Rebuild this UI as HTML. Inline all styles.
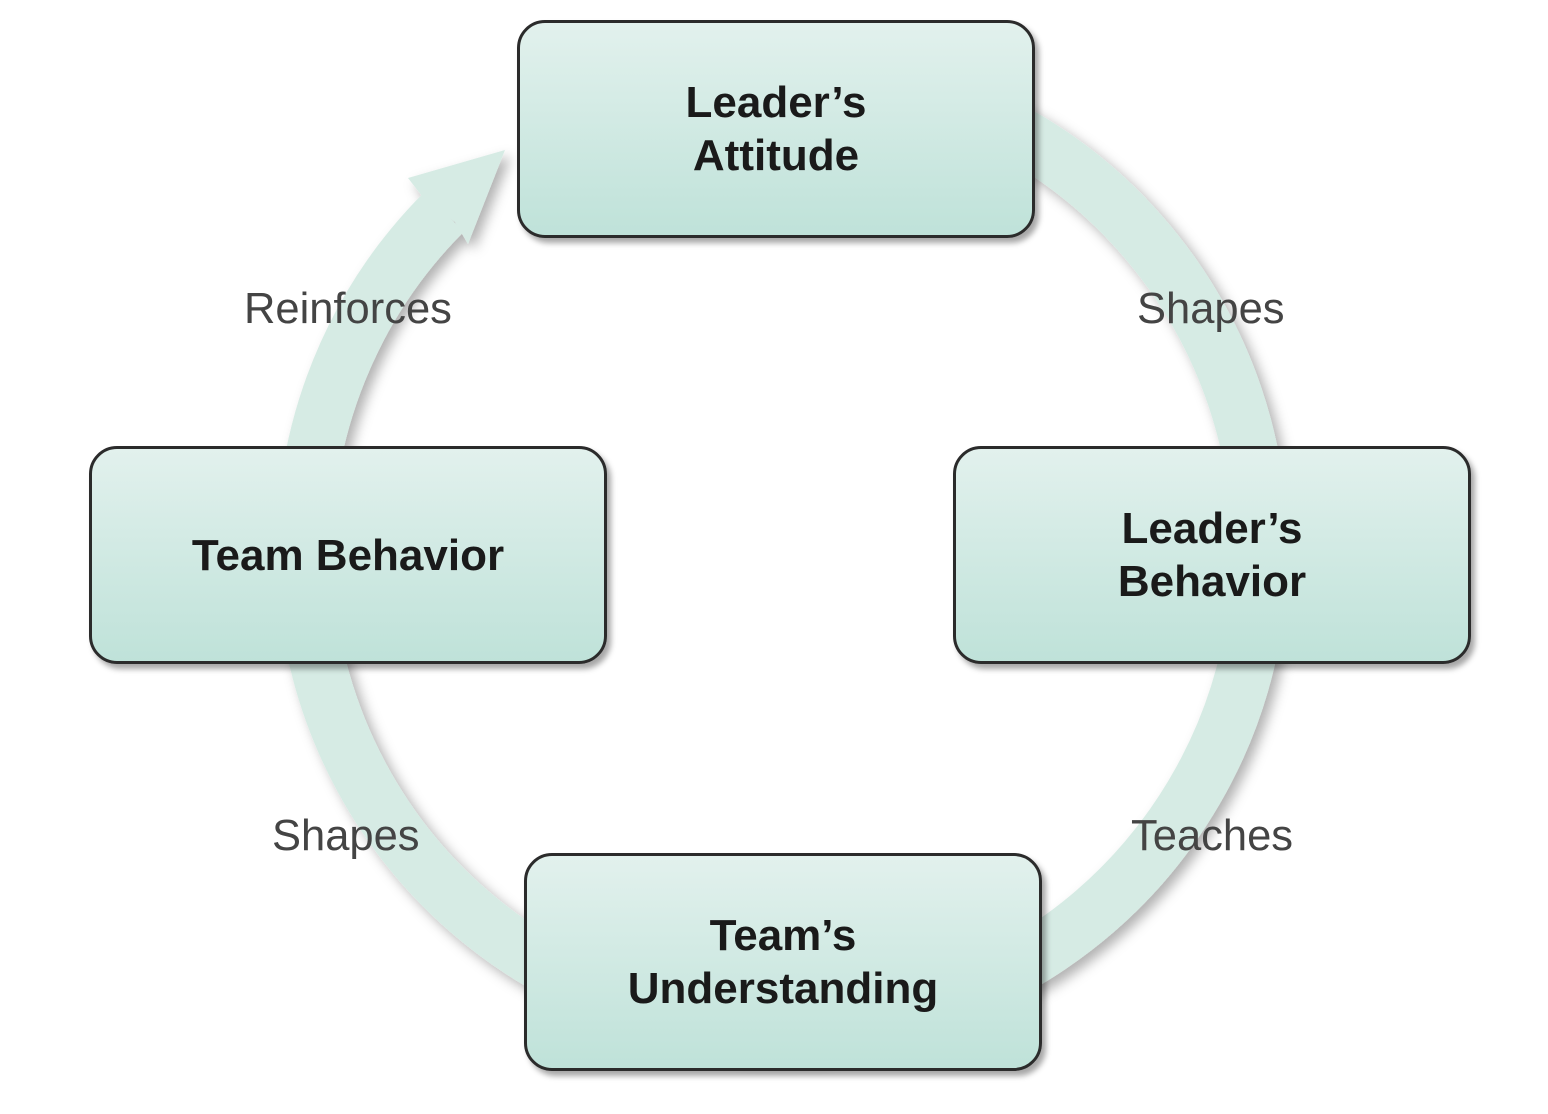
<!DOCTYPE html>
<html><head><style>
body{margin:0;width:1548px;height:1114px;background:#fff;overflow:hidden;position:relative;font-family:"Liberation Sans",Arial,sans-serif}
.box{position:absolute;width:512px;height:212px;border:3px solid #2b2b2b;border-radius:28px;background:linear-gradient(#e2f1ed,#bfe2d9);box-shadow:4px 5px 6px rgba(0,0,0,.35);display:flex;align-items:center;justify-content:center;text-align:center;font-weight:bold;font-size:44px;line-height:53px;color:#1a1a1a}
.lbl{position:absolute;font-size:43.5px;color:#444}
</style></head><body>
<svg width="1548" height="1114" style="position:absolute;left:0;top:0">
<defs><filter id="s" x="-20%" y="-20%" width="140%" height="140%"><feDropShadow dx="6" dy="6" stdDeviation="6" flood-color="#000" flood-opacity=".3"/></filter></defs>
<g filter="url(#s)">
<path d="M444,212 A478,478 0 1 0 999,124" fill="none" stroke="#d6ebe4" stroke-width="56"/>
<polygon points="408,178 505,150 468,244 455,222 425,200" fill="#d6ebe4"/>
</g>
</svg>
<div class="box" style="left:517px;top:20px">Leader’s<br>Attitude</div>
<div class="box" style="left:89px;top:446px">Team Behavior</div>
<div class="box" style="left:953px;top:446px">Leader’s<br>Behavior</div>
<div class="box" style="left:524px;top:853px">Team’s<br>Understanding</div>
<div class="lbl" style="left:244px;top:285px">Reinforces</div>
<div class="lbl" style="left:1137px;top:285px">Shapes</div>
<div class="lbl" style="left:272px;top:812px">Shapes</div>
<div class="lbl" style="left:1131px;top:812px">Teaches</div>
</body></html>
